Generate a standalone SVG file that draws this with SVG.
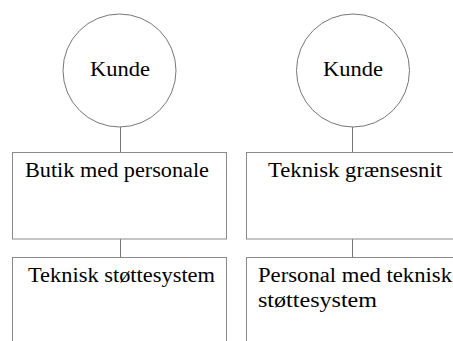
<svg xmlns="http://www.w3.org/2000/svg" width="453" height="341" viewBox="0 0 453 341">
<style>
.node{fill:#fff;stroke:#8a8a8a;stroke-width:1}
.circ{fill:#fff;stroke:#777;stroke-width:1}
.conn line{stroke:#777;stroke-width:1}
</style>
<rect width="453" height="341" fill="#fff"/>
<g class="conn">
<line x1="120.5" y1="127" x2="120.5" y2="152"/>
<line x1="120.5" y1="239" x2="120.5" y2="257"/>
<line x1="352.5" y1="127" x2="352.5" y2="152"/>
<line x1="352.5" y1="239" x2="352.5" y2="257"/>
</g>
<g id="kunde1">
<circle class="circ" cx="119.5" cy="70.5" r="56.5"/>
<text font-family="Liberation Serif" font-size="20" x="90" y="76" textLength="60" lengthAdjust="spacingAndGlyphs">Kunde</text>
</g>
<g id="kunde2">
<circle class="circ" cx="353" cy="70.5" r="56.5"/>
<text font-family="Liberation Serif" font-size="20" x="323" y="76" textLength="60" lengthAdjust="spacingAndGlyphs">Kunde</text>
</g>
<g id="butik">
<rect class="node" x="12.5" y="152.5" width="214" height="86.5"/>
<text font-family="Liberation Serif" font-size="20" x="25" y="177" textLength="184" lengthAdjust="spacingAndGlyphs">Butik med personale</text>
</g>
<g id="graensesnit">
<rect class="node" x="246.5" y="152.5" width="220" height="86.5"/>
<text font-family="Liberation Serif" font-size="20" x="268" y="177" textLength="174" lengthAdjust="spacingAndGlyphs">Teknisk grænsesnit</text>
</g>
<g id="stoettesystem">
<rect class="node" x="12.5" y="257.5" width="214" height="100"/>
<text font-family="Liberation Serif" font-size="20" x="28" y="282" textLength="187" lengthAdjust="spacingAndGlyphs">Teknisk støttesystem</text>
</g>
<g id="personal">
<rect class="node" x="246.5" y="257.5" width="220" height="100"/>
<text font-family="Liberation Serif" font-size="20" x="258" y="282" textLength="194" lengthAdjust="spacingAndGlyphs">Personal med teknisk</text>
<text font-family="Liberation Serif" font-size="20" x="258" y="307" textLength="119" lengthAdjust="spacingAndGlyphs">støttesystem</text>
</g>
</svg>
